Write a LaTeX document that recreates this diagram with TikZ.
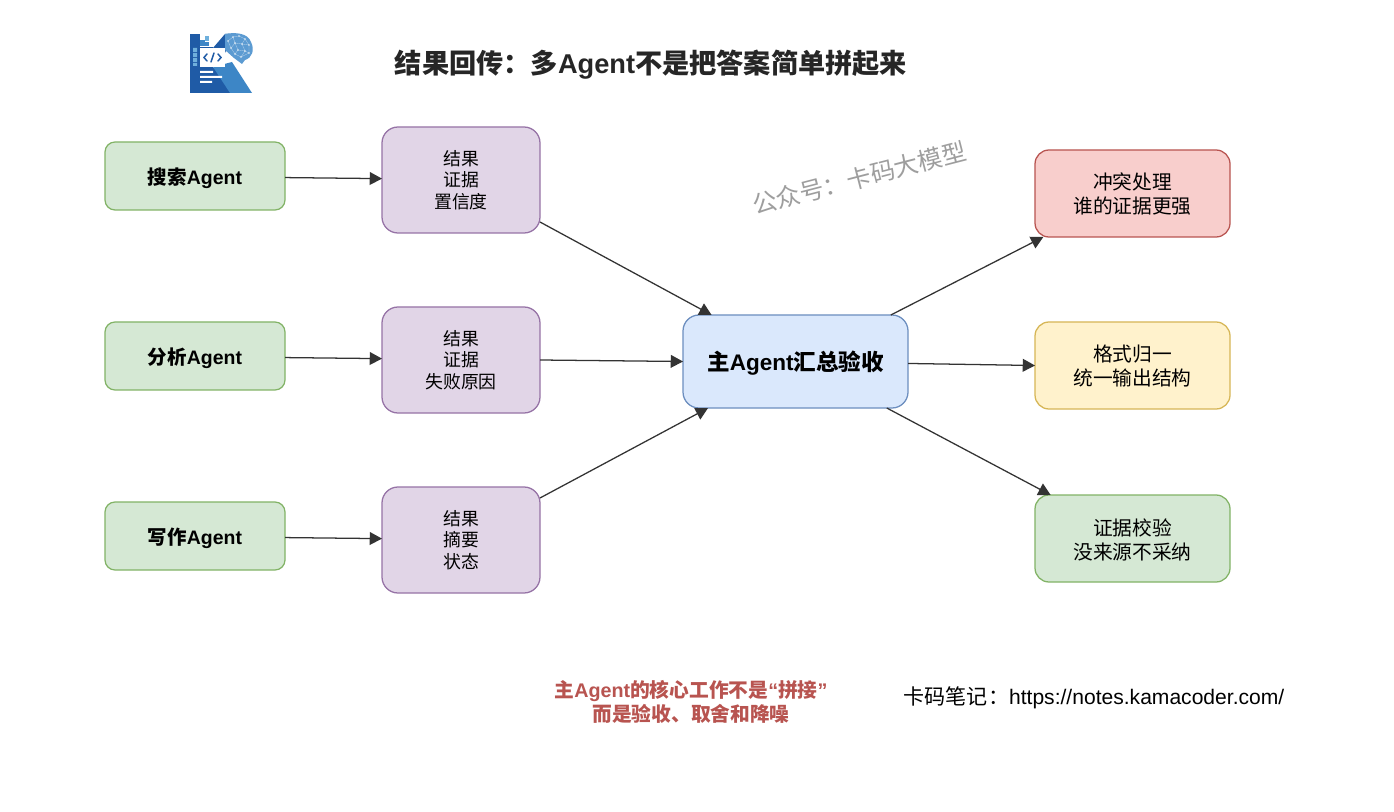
\documentclass[tikz,border=0pt]{standalone}
\usepackage{fontspec}
\setmainfont{Liberation Sans}
\newfontfamily\cjk{Noto Sans CJK SC}
\newcommand{\zh}[1]{{\cjk #1}}
\newcommand{\dn}[2]{\raisebox{-#1pt}[\height][\depth]{#2}}
\usetikzlibrary{arrows.meta}
\definecolor{lineC}{HTML}{333333}
\definecolor{logoA}{HTML}{1F5BA6}
\definecolor{logoB}{HTML}{3D86C6}
\definecolor{logoC}{HTML}{6FB0DC}
\definecolor{logoD}{HTML}{5C9BD2}
\tikzset{
  x=0.75pt,y=-0.75pt,
  box/.style={draw,line width=0.95pt,align=center,inner sep=0pt,outer sep=0pt,text=black},
  agentbox/.style={box,fill=gFill,draw=gLine,minimum width=135pt,minimum height=51pt,rounded corners=7.5pt,font=\bfseries\fontsize{14.6pt}{17pt}\selectfont},
  databox/.style={box,fill=pFill,draw=pLine,minimum width=118.5pt,minimum height=79.5pt,rounded corners=12pt,font=\fontsize{13.4pt}{16.2pt}\selectfont},
  mainbox/.style={box,fill=bFill,draw=bLine,minimum width=168.75pt,minimum height=69.75pt,rounded corners=12pt,font=\bfseries\fontsize{16.9pt}{20pt}\selectfont},
  checkbox/.style={box,minimum width=146.25pt,minimum height=65.25pt,rounded corners=10.5pt,font=\fontsize{14.8pt}{18pt}\selectfont},
  conn/.style={draw=lineC,line width=0.95pt,-{Triangle[length=9.2pt,width=9.6pt]}},
  plain/.style={inner sep=0pt,outer sep=0pt,align=center}
}
\definecolor{gFill}{HTML}{D5E8D4}\definecolor{gLine}{HTML}{82B366}
\definecolor{pFill}{HTML}{E1D5E7}\definecolor{pLine}{HTML}{9673A6}
\definecolor{bFill}{HTML}{DAE8FC}\definecolor{bLine}{HTML}{6C8EBF}
\definecolor{rFill}{HTML}{F8CECC}\definecolor{rLine}{HTML}{B85450}
\definecolor{yFill}{HTML}{FFF2CC}\definecolor{yLine}{HTML}{D6B656}
\begin{document}
\begin{tikzpicture}
\fill[white] (0,0) rectangle (1394,812);
\useasboundingbox (0,0) rectangle (1394,812);

% logo
\fill[logoA] (190,34) rectangle (200,93);
\fill[logoA] (200,47) rectangle (213,70);
\fill[logoA] (190,68) -- (222,68) -- (232,93) -- (190,93) -- cycle;
\fill[logoB] (213,67) -- (232,62) -- (252,93) -- (230,93) -- cycle;
\fill[logoC] (193,48) rectangle (197,52) (193,53) rectangle (197,57) (193,58) rectangle (197,62) (193,63) rectangle (197,66);
\fill[logoB] (200,40) rectangle (205,46);
\fill[logoC] (205,36) rectangle (209,41);
\fill[logoB] (205,42) rectangle (209,46);
\fill[logoA] (213,48) -- (225,34) -- (233,34) -- (225,53) -- cycle;
\fill[logoD] (225,34) .. controls (235,32) and (248,33) .. (251,42) .. controls (255,50) and (252,58) .. (245,60) -- (242,64) -- (234,58) -- (225,50) -- cycle;
\foreach \a/\b in {228/41,233/37,239/36,245/39,249/45,242/44,235/43,231/48,238/50,245/51,249/53,241/57,235/54}{\fill[white,opacity=.8] (\a,\b) circle (.9);}
\draw[white,opacity=.5,line width=.25pt] (228,41)--(233,37)--(239,36)--(245,39)--(249,45)--(249,53)--(241,57)--(235,54)--(231,48)--(228,41) (233,37)--(235,43)--(242,44)--(245,39) (235,43)--(231,48) (242,44)--(249,45) (235,43)--(238,50)--(245,51)--(242,44) (238,50)--(235,54) (245,51)--(241,57) (245,51)--(249,53);
\fill[white] (200,48) rectangle (225,67);
\draw[logoA,line width=1.1pt,line cap=round] (207,54)--(204,57.5)--(207,61) (218,54)--(221,57.5)--(218,61) (214,53)--(211,62);
\fill[white] (200,71) rectangle (213,73) (200,76) rectangle (222,78) (200,81) rectangle (212,83);

% title
\node[plain,font=\bfseries\fontsize{20.4pt}{24pt}\selectfont,text=black!85] (title) at (651,65) {\zh{结果回传：多}Agent\zh{不是把答案简单拼起来}};

% agents
\node[agentbox] (s1) at (195,176) {\dn{1.5}{\zh{搜索}Agent}};
\node[agentbox] (s2) at (195,356) {\dn{1.5}{\zh{分析}Agent}};
\node[agentbox] (s3) at (195,536) {\dn{1.5}{\zh{写作}Agent}};

% results
\node[databox] (r1) at (461,180) {\cjk 结果\\\cjk 证据\\\cjk 置信度};
\node[databox] (r2) at (461,360) {\cjk 结果\\\cjk 证据\\\cjk 失败原因};
\node[databox] (r3) at (461,540) {\cjk 结果\\\cjk 摘要\\\cjk 状态};

% main
\node[mainbox] (m) at (795.5,361.5) {\dn{1.5}{\zh{主}Agent\zh{汇总验收}}};

% checks
\node[checkbox,fill=rFill,draw=rLine] (c1) at (1132.5,193.5) {\dn{.75}{\cjk 冲突处理}\\\dn{.75}{\cjk 谁的证据更强}};
\node[checkbox,fill=yFill,draw=yLine] (c2) at (1132.5,365.5) {\dn{.75}{\cjk 格式归一}\\\dn{.75}{\cjk 统一输出结构}};
\node[checkbox,fill=gFill,draw=gLine] (c3) at (1132.5,538.5) {\dn{.75}{\cjk 证据校验}\\\dn{.75}{\cjk 没来源不采纳}};

% connectors
\draw[conn] (s1.-1) -- (r1.179);
\draw[conn] (s2.-1) -- (r2.179);
\draw[conn] (s3.-1) -- (r3.179);
\draw[conn] (r1.-28) -- (m.151.7);
\draw[conn] (r2.east) -- (m.west);
\draw[conn] (r3.28) -- (m.208.3);
\draw[conn] (m.26.4) -- (c1.206.4);
\draw[conn] (m.-1) -- (c2.west);
\draw[conn] (m.-27.7) -- (c3.152.5);

% watermark
\node[plain,rotate=14.5,text=black!38,font=\cjk\fontsize{18.3pt}{22pt}\selectfont] (wm) at (859,178) {公众号：卡码大模型};

% notes
\node[plain,text=rLine,font=\bfseries\fontsize{14.8pt}{18pt}\selectfont] (note) at (691,702) {\zh{主}Agent\zh{的核心工作不是}“\zh{拼接}”\\\zh{而是验收、取舍和降噪}};
\node[plain,text=black,font=\fontsize{15.8pt}{18pt}\selectfont] (foot) at (1094,698) {\zh{卡码笔记：}https://notes.kamacoder.com/};
\end{tikzpicture}
\end{document}
